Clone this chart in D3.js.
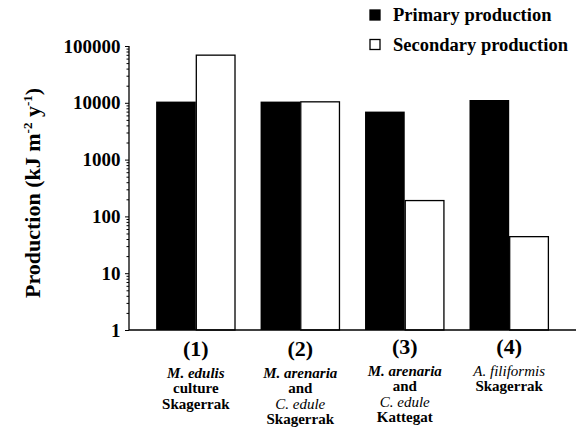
<!DOCTYPE html>
<html><head><meta charset="utf-8">
<script src="https://cdn.jsdelivr.net/npm/d3@7"></script>
<style>body{margin:0;background:#fff}svg{display:block}text{font-family:"Liberation Serif","Times New Roman",serif;}</style>
</head><body>
<svg id="c" width="580" height="431"></svg>
<script>
const categories = ["(1)", "(2)", "(3)", "(4)"];
const series = ["Primary production", "Secondary production"];
const primary = [10500, 10500, 7000, 11200];
const secondary = [69000, 10400, 190, 44];
const yTicks = [1, 10, 100, 1000, 10000, 100000];
const catLines = [
  [["M. edulis","bi"],["culture","b"],["Skagerrak","b"]],
  [["M. arenaria","bi"],["and","b"],["C. edule","i"],["Skagerrak","b"]],
  [["M. arenaria","bi"],["and","b"],["C. edule","i"],["Kattegat","b"]],
  [["A. filiformis","i"],["Skagerrak","b"]]
];

const FF = "Liberation Serif";
const svg = d3.select("#c");
const x = d3.scaleBand().domain(categories).range([130, 575]).paddingInner(0.24).paddingOuter(0.25);
const xs = d3.scaleBand().domain(series).range([0, x.bandwidth()]);
const y = d3.scaleLog().domain([1, 100000]).range([330, 46]);

// bars
const g = svg.append("g");
categories.forEach((c, i) => {
  const vals = [primary[i], secondary[i]];
  vals.forEach((v, j) => {
    g.append("rect")
      .attr("x", x(c) + xs(series[j]) + (j ? 0.5 : 0))
      .attr("y", y(v))
      .attr("width", xs.bandwidth() - (j ? 1 : 0))
      .attr("height", y(1) - y(v))
      .attr("fill", j ? "#fff" : "#000")
      .attr("stroke", j ? "#000" : "none")
      .attr("stroke-width", 1.3);
  });
});

// y axis
const minor = [];
for (let d = 1; d < 100000; d *= 10) for (let k = 1; k < 10; k++) minor.push(d * k);
minor.push(100000);
const yAxis = d3.axisLeft(y).tickValues(minor)
  .tickSize(2.5).tickPadding(6)
  .tickFormat(d => yTicks.includes(d) ? String(d) : "");
const ya = svg.append("g").attr("transform", "translate(129,0)").call(yAxis);
ya.attr("font-family", FF);
ya.select(".domain").attr("stroke-width", 1.3).attr("d", `M0,${y(100000)}V${y(1)}`);
ya.selectAll(".tick line").attr("stroke-width", 1).attr("x2", d => yTicks.includes(d) ? -4 : -2.5);
ya.selectAll(".tick text").style("font-family", FF).attr("font-weight", "bold")
  .attr("font-size", 19).attr("fill", "#000");

// x baseline
svg.append("line").attr("x1", 129).attr("x2", 576).attr("y1", y(1)).attr("y2", y(1))
  .attr("stroke", "#000").attr("stroke-width", 1.5);

// y title
svg.append("text")
  .attr("transform", `translate(40,193) rotate(-90)`)
  .attr("text-anchor", "middle").style("font-family", FF)
  .attr("font-weight", "bold").attr("font-size", 22)
  .html('Production (kJ m<tspan dy="-8" font-size="13">-2</tspan><tspan dy="8"> y</tspan><tspan dy="-8" font-size="13">-1</tspan><tspan dy="8">)</tspan>');

// category labels
categories.forEach((c, i) => {
  const cx = x(c) + x.bandwidth() / 2;
  const top = i < 2 ? 356 : 354;
  svg.append("text").attr("x", cx).attr("y", top).attr("text-anchor", "middle").style("font-family", FF)
    .attr("font-weight", "bold").attr("font-size", 22).text(c);
  catLines[i].forEach((ln, k) => {
    svg.append("text").attr("x", cx).attr("y", top + 22 + k * 15.3).attr("text-anchor", "middle")
      .style("font-family", FF).attr("font-size", 15)
      .attr("font-weight", ln[1].includes("b") ? "bold" : "normal")
      .attr("font-style", ln[1].includes("i") ? "italic" : "normal")
      .text(ln[0]);
  });
});

// legend
const lg = svg.append("g");
series.forEach((s, j) => {
  const ly = 15 + j * 29.5;
  lg.append("rect").attr("x", 370).attr("y", ly - 5).attr("width", 10).attr("height", 10)
    .attr("fill", j ? "#fff" : "#000").attr("stroke", "#000").attr("stroke-width", 1.3);
  lg.append("text").attr("x", 393).attr("y", ly + 6).style("font-family", FF).attr("font-weight", "bold")
    .attr("font-size", 18.5).text(s);
});
</script>
</body></html>
